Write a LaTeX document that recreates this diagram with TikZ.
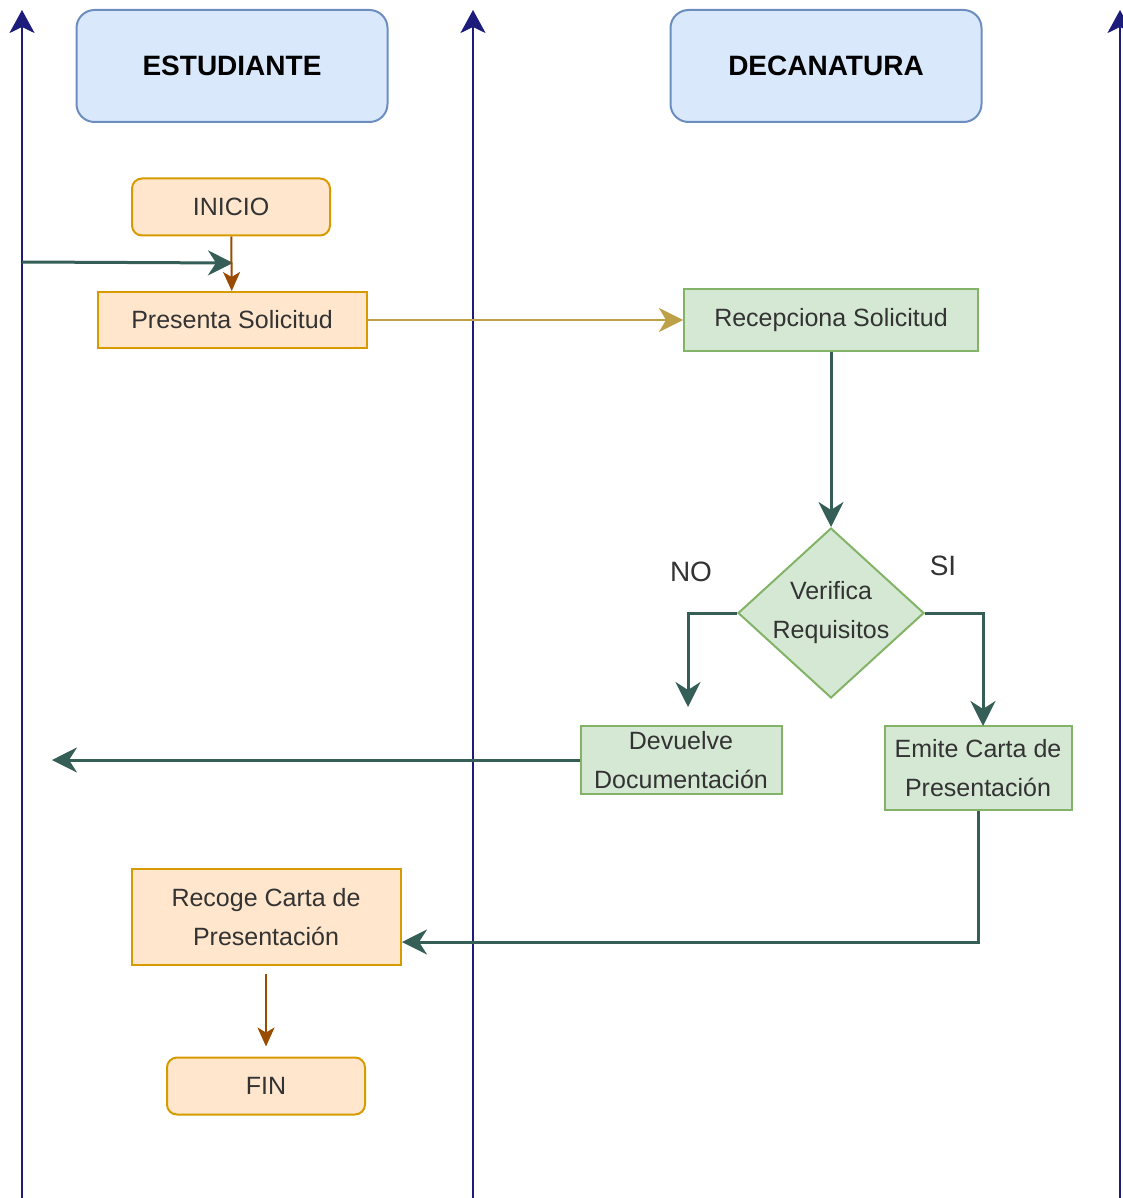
\documentclass[tikz,border=0pt]{standalone}
\usepackage{fontspec}
\setmainfont{Liberation Sans}
\usetikzlibrary{arrows.meta}
\usetikzlibrary{shapes.geometric}
\usetikzlibrary{positioning}
\definecolor{lanec}{RGB}{28,28,122}
\definecolor{headfill}{HTML}{DAE8FC}
\definecolor{headline}{HTML}{6C8EBF}
\definecolor{orfill}{HTML}{FFE6CC}
\definecolor{orline}{HTML}{D79B00}
\definecolor{grfill}{HTML}{D5E8D4}
\definecolor{grline}{HTML}{82B366}
\definecolor{tealc}{RGB}{52,94,86}
\definecolor{brownc}{HTML}{994C00}
\definecolor{goldc}{RGB}{190,160,70}
\definecolor{txt}{RGB}{51,51,51}

\begin{document}
\begin{tikzpicture}[x=0.5pt,y=-0.5pt,
    body/.style={font=\fontsize{12.5}{19.5}\selectfont,text=txt,align=center,inner sep=0pt},
    head node/.style={rectangle,rounded corners=9pt,draw=headline,fill=headfill,line width=1pt,
      minimum width=155.5pt,minimum height=56pt,font=\fontsize{14}{17}\selectfont\bfseries},
    end node/.style={body,rectangle,rounded corners=5pt,draw=orline,fill=orfill,line width=1pt,
      minimum width=99pt,minimum height=28.5pt},
    or node/.style={body,rectangle,draw=orline,fill=orfill,line width=1pt},
    gr node/.style={body,rectangle,draw=grline,fill=grfill,line width=1pt},
    check node/.style={body,diamond,shape aspect=1.1,draw=grline,fill=grfill,line width=1pt,
      minimum width=93pt,minimum height=85pt},
    lane/.style={draw=lanec,line width=1.3pt,-{Stealth[length=11.5pt,width=12.5pt,inset=3pt]}},
    teal arrow/.style={draw=tealc,line width=1.5pt,-{Stealth[length=12.5pt,width=12.5pt,inset=4pt]}},
    brown arrow/.style={draw=brownc,line width=1pt,-{Stealth[length=9.5pt,width=8.5pt,inset=2.5pt]}},
    gold arrow/.style={draw=goldc,line width=1pt,-{Stealth[length=12pt,width=12pt,inset=3.5pt]}}]
  \useasboundingbox (0,0) rectangle (1123,1198);

  % lanes
  \coordinate (l1b) at (22,1198);  \coordinate (l1t) at (22,10);
  \coordinate (l2b) at (473,1198); \coordinate (l2t) at (473,10);
  \coordinate (l3b) at (1120,1198); \coordinate (l3t) at (1120,10);
  \path (l1b) edge[lane] (l1t);
  \path (l2b) edge[lane] (l2t);
  \path (l3b) edge[lane] (l3t);

  % headers
  \node[head node] (est) at (232,66) {ESTUDIANTE};
  \node[head node] (dec) at (826,66) {DECANATURA};

  % estudiante
  \node[end node] (ini) at (231,207) {INICIO};
  \node[or node,minimum width=134.5pt,minimum height=28pt] (pres) at (232,320) {Presenta Solicitud};
  \node[or node,minimum width=134.5pt,minimum height=48pt] (rec) at (266,917) {Recoge Carta de\\Presentación};
  \node[end node] (fin) at (266,1086) {FIN};

  % decanatura
  \node[gr node,minimum width=147pt,minimum height=31pt] (recep) at (831,320) {Recepciona Solicitud};
  \node[check node] (ver) at (831,613) {Verifica\\Requisitos};
  \node[gr node,minimum width=100.5pt,minimum height=34pt] (dev) at (681,760) {Devuelve\\Documentación};
  \node[gr node,minimum width=93.5pt,minimum height=42pt] (emi) at (978,768) {Emite Carta de\\Presentación};
  \node[font=\fontsize{14}{17}\selectfont,text=txt] (no) at (691,572) {NO};
  \node[font=\fontsize{14}{17}\selectfont,text=txt] (si) at (943,566) {SI};

  % connectors
  \coordinate (in1) at (22,262);
  \coordinate (in2) at (233,263);
  \coordinate (noend) at (688,707);
  \coordinate (siend) at (983,726);
  \coordinate (back) at (52,760);
  \coordinate (recin) at (402,942);
  \path (in1) edge[teal arrow] (in2);
  \path (ini) edge[brown arrow] (pres);
  \path (pres) edge[gold arrow] (recep);
  \path (recep) edge[teal arrow] (ver);
  \draw[teal arrow] (ver.west) -| (noend);
  \draw[teal arrow] (ver.east) -| (siend);
  \path (dev.west |- back) edge[teal arrow] (back);
  \draw[teal arrow] (emi.south) |- (recin);
  \path (rec) edge[brown arrow,shorten <=4pt,shorten >=5pt] (fin);
\end{tikzpicture}
\end{document}
